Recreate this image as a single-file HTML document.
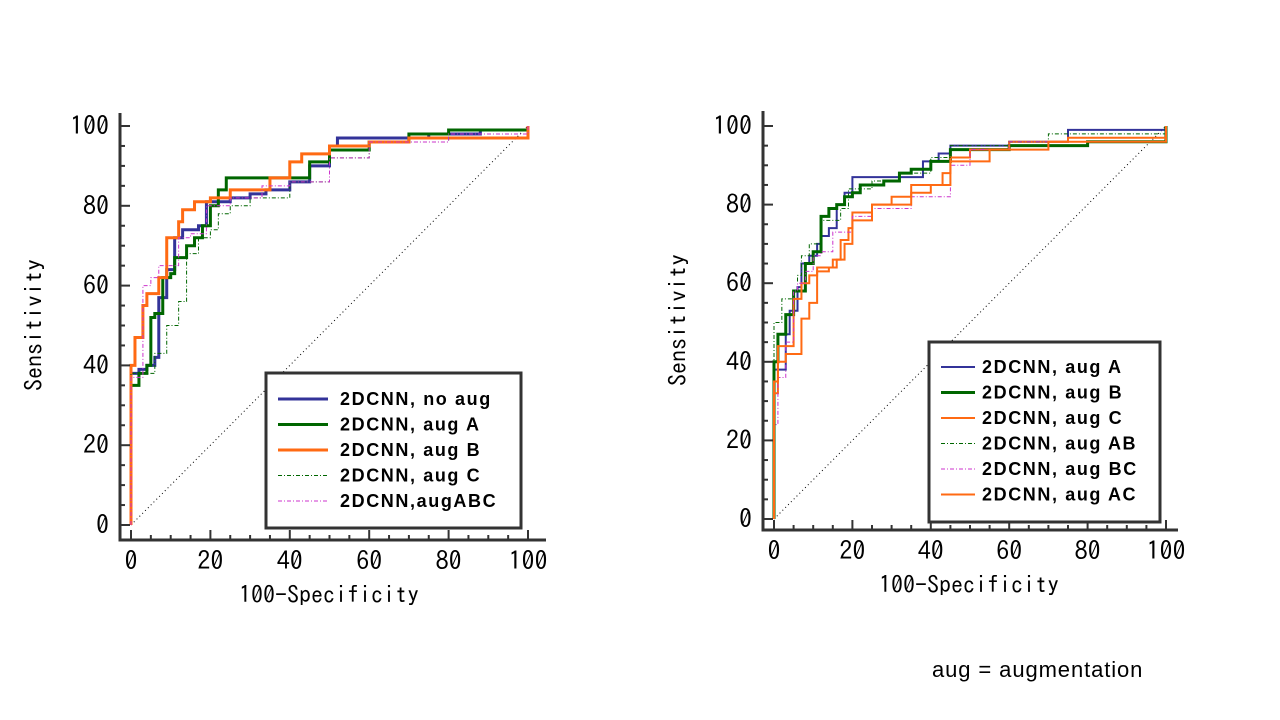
<!DOCTYPE html>
<html><head><meta charset="utf-8"><style>
body{margin:0;background:#fff;width:1280px;height:720px;overflow:hidden}
svg{position:absolute;left:0;top:0}
text{font-family:"Liberation Sans",sans-serif}
.g{font-family:"IPAGothic","Liberation Sans",sans-serif}
</style></head><body>
<svg id="s" width="1280" height="720">
<text x="932" y="677" font-size="22" letter-spacing="0.9">aug = augmentation</text>
</svg>
<script>
const ticks=[0,20,40,60,80,100];
// Left chart series [x...],[y...]
const L_noaug_x=[0,0,2,4,6,7,7,9,9,11,11,13,17,19,19,25,30,34,40,45,50,52,60,75,88,100];
const L_noaug_y=[0,38,39,40,42,43,57,57,64,64,72,74,75,75,81,82,83,84,86,90,95,97,97,98,99,100];
const L_A_x=[0,0,2,4,5,5,6,8,10,11,14,16,18,20,22,24,40,45,50,60,70,80,100];
const L_A_y=[0,35,38,40,40,52,53,62,63,67,70,72,75,80,84,87,87,91,94,96,98,99,100];
const L_B_x=[0,0,1,3,3,4,7,7,9,9,12,12,13,16,20,25,35,40,43,50,60,70,100];
const L_B_y=[0,40,47,47,55,58,58,62,64,72,72,76,79,81,82,84,87,91,93,95,96,97,100];
const L_C_x=[0,0,6,6,9,9,12,12,14,14,17,20,22,25,30,40,50,60,80,100];
const L_C_y=[0,38,40,43,44,50,51,56,56,68,72,74,78,80,82,86,92,96,98,100];
const L_ABC_x=[0,0,3,3,5,7,7,10,12,15,19,19,25,33,40,50,60,80,100];
const L_ABC_y=[0,37,44,60,62,63,65,65,72,73,75,80,82,85,86,92,96,98,100];
// Right chart series
const R_A_x=[0,0,2,3,3,4,4,6,6,7,7,9,11,12,14,16,18,20,37,38,42,45,60,75,100];
const R_A_y=[0,38,38,41,47,47,53,53,59,60,65,67,70,72,74,80,83,87,87,91,93,95,96,99,100];
const R_B_x=[0,0,1,1,3,3,5,5,8,8,10,12,14,16,18,20,22,28,32,35,40,45,60,80,100];
const R_B_y=[0,40,40,47,47,52,55,58,58,65,68,77,79,80,82,83,85,86,88,89,91,94,95,96,100];
const R_C_x=[0,0,1,1,5,5,7,9,11,13,15,17,19,20,25,30,35,40,43,45,50,58,60,75,100];
const R_C_y=[0,32,32,44,44,56,60,62,64,64,66,71,74,78,80,82,83,85,88,92,94,94,96,97,100];
const R_AB_x=[0,0,2,2,5,6,7,7,9,12,17,19,25,32,40,45,60,70,100];
const R_AB_y=[0,50,52,56,58,62,63,67,70,76,79,84,86,88,92,95,96,98,100];
const R_BC_x=[0,0,1,1,3,5,6,8,10,12,15,20,25,35,45,50,60,100];
const R_BC_y=[0,24,24,36,45,58,60,63,67,68,73,77,79,82,90,94,96,100];
const R_AC_x=[0,0,1,3,7,7,9,11,11,14,16,18,20,25,35,45,55,70,100];
const R_AC_y=[0,35,40,42,42,51,55,56,63,64,66,70,76,80,85,91,94,96,100];

const S=document.getElementById('s');
function el(t,a,p){const e=document.createElementNS('http://www.w3.org/2000/svg',t);for(const k in a)e.setAttribute(k,a[k]);(p||S).appendChild(e);return e;}
function chart(c){
  const g=el('g',{});
  
  
  const X=v=>c.x0+v*(c.x1-c.x0)/100, Y=v=>c.y0-v*(c.y0-c.y100)/100;
  el('line',{x1:X(0),y1:Y(0),x2:X(100),y2:Y(100),stroke:'#000','stroke-width':1,'stroke-dasharray':'1,3'},g);
  c.series.forEach(s=>{
    let d='M'+X(s.x[0])+','+Y(s.y[0]);
    for(let i=1;i<s.x.length;i++){d+=' L'+X(s.x[i])+','+Y(s.y[i-1])+' L'+X(s.x[i])+','+Y(s.y[i]);}
    const p=el('path',{d:d,fill:'none',stroke:s.c,'stroke-width':s.w,'stroke-dasharray':s.dash||''},g);
    
    
  });
  const ax=el('path',{d:`M${c.ax},${c.ay0} L${c.ax},${c.ay} L${c.axe},${c.ay}`,fill:'none',stroke:'#333','stroke-width':3},g);
  
  
  for(let v=0;v<=100;v+=5){
    const L=v%20==0?10:5;
    el('line',{x1:c.ax,x2:c.ax+L,y1:Y(v),y2:Y(v),stroke:'#333','stroke-width':2},g);
    el('line',{x1:X(v),x2:X(v),y1:c.ay,y2:c.ay-L,stroke:'#333','stroke-width':2},g);
  }
  ticks.forEach(v=>{
    const t=el('text',{x:c.ax-11,y:Y(v)+9,'font-size':26,'text-anchor':'end','class':'g'},g);t.textContent=v;
    
    
    const u=el('text',{x:X(v),y:c.ay+30,'font-size':26,'text-anchor':'middle','class':'g'},g);u.textContent=v;
    
    
  });
  const yt=el('text',{x:0,y:0,'font-size':24,'text-anchor':'middle','class':'g',transform:`translate(${c.ytx},${c.yty}) rotate(-90)`},g);yt.textContent='Sensitivity';
  
  
  const xt=el('text',{x:c.xtx,y:c.xty,'font-size':24,'text-anchor':'middle','class':'g'},g);xt.textContent='100-Specificity';
  
  
  const lg=el('g',{},g);
  
  
  el('rect',{x:c.lx,y:c.ly,width:c.lw,height:c.lh,fill:'#fff',stroke:'#333','stroke-width':3},lg);
  c.series.forEach((s,i)=>{
    const yy=c.ly+c.l0+i*c.ld;
    el('line',{x1:c.lx+c.lla,x2:c.lx+c.llb,y1:yy,y2:yy,stroke:s.c,'stroke-width':s.w,'stroke-dasharray':s.dash||''},lg);
    const t=el('text',{x:c.lx+c.ltx,y:yy+6,'font-size':18,'font-weight':'bold','letter-spacing':1.6},lg);t.textContent=s.label;
    
    
  });
}
const blue='#333399',green='#006600',orange='#ff6a13',mag='#cc33cc';
chart({name:'left-roc-chart',x0:131,x1:528,y0:525,y100:126,ax:120,ay0:113,ay:540,axe:546,ytx:42,yty:325,xtx:329,xty:603,
 lx:266,ly:373,lw:255,lh:155,l0:26,ld:25.5,lla:12,llb:62,ltx:74,
 series:[
 {id:'no-aug',x:L_noaug_x,y:L_noaug_y,c:blue,w:3,label:'2DCNN, no aug'},
 {id:'aug-a',x:L_A_x,y:L_A_y,c:green,w:3,label:'2DCNN, aug A'},
 {id:'aug-b',x:L_B_x,y:L_B_y,c:orange,w:3,label:'2DCNN, aug B'},
 {id:'aug-c',x:L_C_x,y:L_C_y,c:green,w:1,dash:'4,2,1,2',label:'2DCNN, aug C'},
 {id:'aug-abc',x:L_ABC_x,y:L_ABC_y,c:mag,w:1,dash:'4,2,1,2',label:'2DCNN,augABC'}]});
chart({name:'right-roc-chart',x0:774,x1:1166,y0:519,y100:126,ax:763,ay0:111,ay:530,axe:1178,ytx:686,yty:320,xtx:969,xty:593,
 lx:929,ly:342,lw:231,lh:180,l0:25,ld:25.5,lla:12,llb:46,ltx:53,
 series:[
 {id:'aug-a',x:R_A_x,y:R_A_y,c:blue,w:2,label:'2DCNN, aug A'},
 {id:'aug-b',x:R_B_x,y:R_B_y,c:green,w:3,label:'2DCNN, aug B'},
 {id:'aug-c',x:R_C_x,y:R_C_y,c:orange,w:2,label:'2DCNN, aug C'},
 {id:'aug-ab',x:R_AB_x,y:R_AB_y,c:green,w:1,dash:'4,2,1,2',label:'2DCNN, aug AB'},
 {id:'aug-bc',x:R_BC_x,y:R_BC_y,c:mag,w:1,dash:'4,2,1,2',label:'2DCNN, aug BC'},
 {id:'aug-ac',x:R_AC_x,y:R_AC_y,c:orange,w:2,label:'2DCNN, aug AC'}]});
</script>
</body></html>
